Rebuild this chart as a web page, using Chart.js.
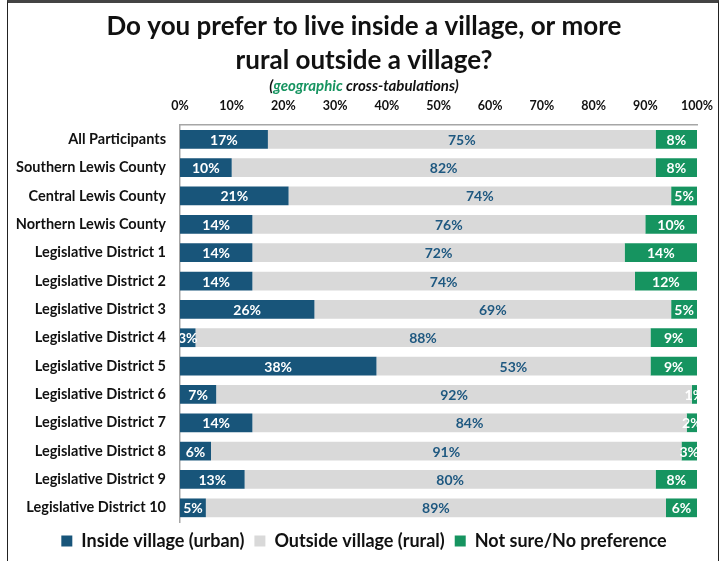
<!DOCTYPE html>
<html>
<head>
<meta charset="utf-8">
<script src="https://cdn.jsdelivr.net/npm/chart.js@4"></script>
<style>
  body { margin: 0; background: #fff; }
  #wrap { position: relative; width: 728px; height: 561px; }
  #frame {
    position: absolute; left: 7px; top: 0; width: 710px; height: 575px;
    border-left: 1px solid #222; border-right: 1px solid #222; border-top: 3px solid #444;
    pointer-events: none;
  }
</style>
</head>
<body>
<div id="wrap">
  <canvas id="myChart"></canvas>
  <div id="frame"></div>
</div>
<script>
// DATA
const categories = [
    "All Participants", "Southern Lewis County", "Central Lewis County", "Northern Lewis County",
    "Legislative District 1", "Legislative District 2", "Legislative District 3", "Legislative District 4",
    "Legislative District 5", "Legislative District 6", "Legislative District 7", "Legislative District 8",
    "Legislative District 9", "Legislative District 10"
];
const insideVillage = [17, 10, 21, 14, 14, 14, 26, 3, 38, 7, 14, 6, 12.5, 5];
const outsideVillage = [75, 82, 74, 76, 72, 74, 69, 88, 53, 92, 84, 91, 79.5, 89];
const notSure = [8, 8, 5, 10, 14, 12, 5, 9, 9, 1, 2, 3, 8, 6];
const tickLabels = ["0%", "10%", "20%", "30%", "40%", "50%", "60%", "70%", "80%", "90%", "100%"];

const BLUE = "rgb(24, 85, 122)";
const GREY = "rgb(217, 217, 217)";
const GREEN = "rgb(22, 148, 96)";
const FONT = "Lato, 'Open Sans', sans-serif";
const subText = "(geographic cross-tabulations)";

// value labels centred on each segment, clipped to the plot area
const barLabels = {
    id: "barLabels",
    afterDatasetsDraw(chart) {
        const ctx = chart.ctx;
        const area = chart.chartArea;
        ctx.save();
        ctx.beginPath();
        ctx.rect(area.left, area.top, area.right - area.left, area.bottom - area.top);
        ctx.clip();
        ctx.font = "bold 14px " + FONT;
        ctx.textAlign = "center";
        ctx.textBaseline = "middle";
        chart.data.datasets.forEach((ds, i) => {
            ctx.fillStyle = i === 1 ? "rgb(30, 88, 128)" : "#fff";
            chart.getDatasetMeta(i).data.forEach((bar, j) => {
                const v = ds.data[j];
                ctx.fillText(Math.round(v) + "%", (bar.x + bar.base) / 2, bar.y + 1);
            });
        });
        ctx.restore();
    },
};

// subtitle with "geographic" in green
const subtitleColors = {
    id: "subtitleColors",
    afterDraw(chart) {
        const box = chart.boxes.find(b => b !== chart.titleBlock && b.options && b.options.text === subText);
        if (!box) return;
        const ctx = chart.ctx;
        ctx.save();
        ctx.font = "italic bold 15px " + FONT;
        ctx.textBaseline = "middle";
        ctx.textAlign = "left";
        const parts = [["(", "#111"], ["geographic", GREEN], [" cross-tabulations)", "#111"]];
        const total = parts.reduce((s, p) => s + ctx.measureText(p[0]).width, 0);
        let x = (box.left + box.right) / 2 - total / 2;
        const y = box.top + 9;
        parts.forEach(p => {
            ctx.fillStyle = p[1];
            ctx.fillText(p[0], x, y);
            x += ctx.measureText(p[0]).width;
        });
        ctx.restore();
    },
};

const data = {
    labels: categories,
    datasets: [
        { label: "Inside village (urban)", data: insideVillage, backgroundColor: BLUE },
        { label: "Outside village (rural)", data: outsideVillage, backgroundColor: GREY },
        { label: "Not sure/No preference", data: notSure, backgroundColor: GREEN },
    ],
};

const config = {
    type: "bar",
    data: data,
    plugins: [barLabels, subtitleColors],
    options: {
        indexAxis: "y",
        responsive: true,
        maintainAspectRatio: false,
        animation: false,
        categoryPercentage: 0.66,
        barPercentage: 1,
        layout: { padding: { left: 0, right: 0, top: 0, bottom: 1 } },
        scales: {
            x: {
                stacked: true,
                position: "top",
                min: 0,
                max: 100,
                grid: { display: false, drawTicks: false },
                border: { display: true, color: "#a6a6a6", width: 1.5 },
                ticks: {
                    stepSize: 10,
                    padding: 12,
                    color: "#111",
                    font: { family: FONT, size: 12.5, weight: "bold" },
                    callback: (v, i) => tickLabels[i],
                },
                afterFit(scale) { scale.height = 27.5; },
            },
            y: {
                stacked: true,
                grid: { display: false, drawTicks: false },
                border: { display: true, color: "#a6a6a6", width: 1.5 },
                ticks: {
                    padding: 14,
                    color: "#111",
                    font: { family: FONT, size: 14.5, weight: "bold" },
                },
                afterFit(scale) { scale.width = 180; },
            },
            // empty right-hand spacer so the title and legend stay centred on the page
            yRight: {
                type: "linear",
                position: "right",
                display: true,
                grid: { display: false, drawTicks: false },
                border: { display: false },
                ticks: { display: false },
                afterFit(scale) { scale.width = 31; },
            },
        },
        plugins: {
            title: {
                display: true,
                text: ["Do you prefer to live inside a village, or more", "rural outside a village?"],
                color: "#111",
                font: { family: FONT, size: 26, weight: "bold", lineHeight: 1.3 },
                padding: { top: 10, bottom: 0 },
            },
            subtitle: {
                display: true,
                text: subText,
                color: "rgba(0,0,0,0)",
                font: { family: FONT, size: 15, style: "italic", weight: "bold", lineHeight: 1.2 },
                padding: { top: 0, bottom: 2 },
            },
            legend: {
                position: "bottom",
                labels: {
                    boxWidth: 11,
                    boxHeight: 11,
                    padding: 10,
                    color: "#111",
                    font: { family: FONT, size: 18, weight: "bold" },
                },
            },
            tooltip: { enabled: false },
        },
    },
};

const myChart = new Chart(document.getElementById("myChart"), config);
</script>
</body>
</html>
